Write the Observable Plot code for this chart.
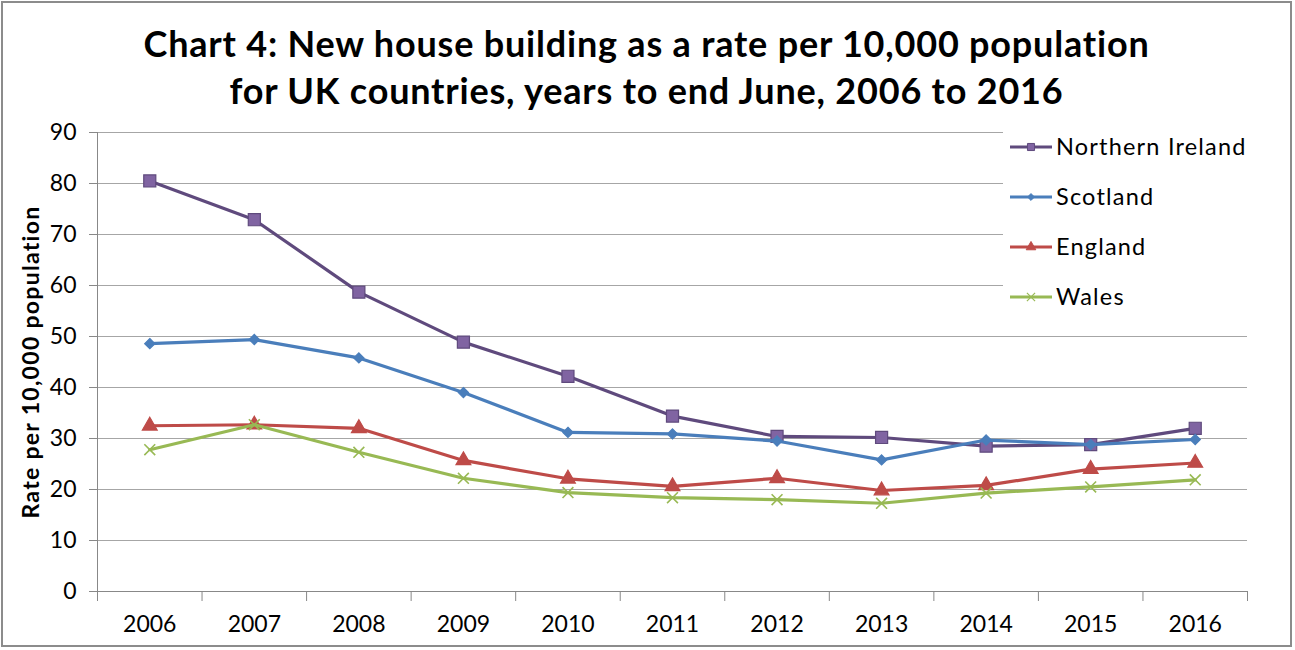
<!DOCTYPE html>
<html><head><meta charset="utf-8">
<script src="https://cdn.jsdelivr.net/npm/d3@7"></script>
<script src="https://cdn.jsdelivr.net/npm/@observablehq/plot@0.6"></script>
<style>
html,body{margin:0;padding:0;background:#fff;}
#frame{position:absolute;left:1px;top:1px;width:1291px;height:646px;border:2px solid #8c8c8c;box-sizing:border-box;background:#fff;overflow:hidden;}
#title{position:relative;z-index:1;height:100px;box-sizing:border-box;padding-top:17px;text-align:center;font-family:Lato,"Open Sans",sans-serif;font-weight:bold;font-size:36px;letter-spacing:0.8px;line-height:47px;color:#000;white-space:nowrap;}
#chart svg{display:block;}
</style>
</head><body>
<div id="frame">
  <div id="title">Chart 4: New house building as a rate per 10,000 population<br>for UK countries, years to end June, 2006 to 2016</div>
  <div id="chart"></div>
</div>
<script>
const years = [2006, 2007, 2008, 2009, 2010, 2011, 2012, 2013, 2014, 2015, 2016];
const northernIreland = [80.5, 72.9, 58.7, 48.9, 42.2, 34.4, 30.4, 30.2, 28.5, 28.8, 32.0];
const scotland = [48.6, 49.4, 45.8, 39.0, 31.2, 30.9, 29.5, 25.8, 29.7, 28.8, 29.8];
const england = [32.5, 32.7, 32.0, 25.7, 22.1, 20.6, 22.2, 19.8, 20.8, 24.0, 25.2];
const wales = [27.8, 32.7, 27.3, 22.2, 19.4, 18.4, 18.0, 17.3, 19.3, 20.5, 21.9];
const yTicks = [0, 10, 20, 30, 40, 50, 60, 70, 80, 90];
const yLabel = "Rate per 10,000 population";

const series = [
  {name: "Northern Ireland", values: northernIreland, line: "#5F4A7D", fill: "#8064A2", mstroke: "#5F4A7D", symbol: "square", r: 6.8, lsize: 50},
  {name: "Scotland", values: scotland, line: "#4A7EBB", fill: "#4A7EBB", mstroke: "#4A7EBB", symbol: "diamond2", r: 4.6, lsize: 30},
  {name: "England", values: england, line: "#BE4B48", fill: "#BE4B48", mstroke: "#BE4B48", symbol: "triangle", r: 5.5, lsize: 40},
  {name: "Wales", values: wales, line: "#98B954", fill: "none", mstroke: "#98B954", symbol: "times", r: 5, lsize: 45}
];

const boundaries = years.map(y => y - 0.5).concat([years[years.length - 1] + 0.5]);
const FONT = "Lato, 'Open Sans', sans-serif";

const marks = [
  Plot.gridY(yTicks.filter(d => d > 0), {stroke: "#a6a6a6", strokeOpacity: 1, strokeWidth: 1}),
  Plot.ruleY([0], {stroke: "#888"}),
  Plot.ruleX([boundaries[0]], {y1: 0, y2: 90, stroke: "#888"}),
  Plot.axisY(yTicks, {tickSize: 8, tickPadding: 13, stroke: "#888", fill: "#000", fontSize: 23, label: null}),
  Plot.axisX(boundaries, {tickSize: 10, tickFormat: () => "", stroke: "#888", label: null}),
  Plot.axisX(years, {tickSize: 0, tickPadding: 24, tickFormat: d => String(d), fill: "#000", fontSize: 23, label: null}),
  Plot.text([yLabel], {frameAnchor: "left", textAnchor: "middle", rotate: -90, dx: -66, fontWeight: "bold", fontSize: 23, fill: "#000"})
];
for (const s of series) {
  const data = years.map((y, i) => ({year: y, value: s.values[i]}));
  marks.push(Plot.line(data, {x: "year", y: "value", stroke: s.line, strokeWidth: 3.2}));
  marks.push(Plot.dot(data, {x: "year", y: "value", symbol: () => s.symbol, r: s.r, fill: s.fill, stroke: s.mstroke, strokeWidth: s.symbol === "times" ? 1.6 : 1.2}));
}

const plot = Plot.plot({
  width: 1287,
  height: 542,
  marginLeft: 94,
  marginRight: 43,
  marginTop: 29,
  marginBottom: 54,
  style: {fontFamily: FONT, fontSize: "23px", background: "transparent", color: "#000"},
  x: {type: "linear", domain: [boundaries[0], boundaries[boundaries.length - 1]], axis: null},
  y: {domain: [0, 90], axis: null},
  symbol: {type: "identity"},
  marks
});
document.getElementById("chart").appendChild(plot);
// y label letter spacing to mimic the reference's wider face
d3.select(plot).selectAll("text").filter(function() { return this.textContent === yLabel; }).attr("letter-spacing", "1.3px");

// legend inside plot area (top right)
const svg = d3.select(plot);
const lg = svg.append("g");
lg.append("rect").attr("x", 1000).attr("y", 22).attr("width", 244).attr("height", 197).attr("fill", "#fff");
const symMap = {square: d3.symbolSquare, diamond2: d3.symbolDiamond2, triangle: d3.symbolTriangle, times: d3.symbolTimes};
series.forEach((s, i) => {
  const cy = 44 + i * 50;
  const g = lg.append("g").attr("transform", `translate(0,${cy})`);
  g.append("line").attr("x1", 1007).attr("x2", 1049).attr("y1", 0).attr("y2", 0).attr("stroke", s.line).attr("stroke-width", 3.2);
  g.append("path").attr("transform", "translate(1028,0)").attr("d", d3.symbol(symMap[s.symbol], s.lsize)())
    .attr("fill", s.fill).attr("stroke", s.mstroke).attr("stroke-width", s.symbol === "times" ? 1.2 : 1);
  g.append("text").attr("x", 1053).attr("y", 0).attr("dy", "0.35em").attr("text-anchor", "start")
    .attr("font-size", 23.5).attr("letter-spacing", "1.2px").attr("font-family", FONT).attr("fill", "#000").text(s.name);
});
</script>
</body></html>
